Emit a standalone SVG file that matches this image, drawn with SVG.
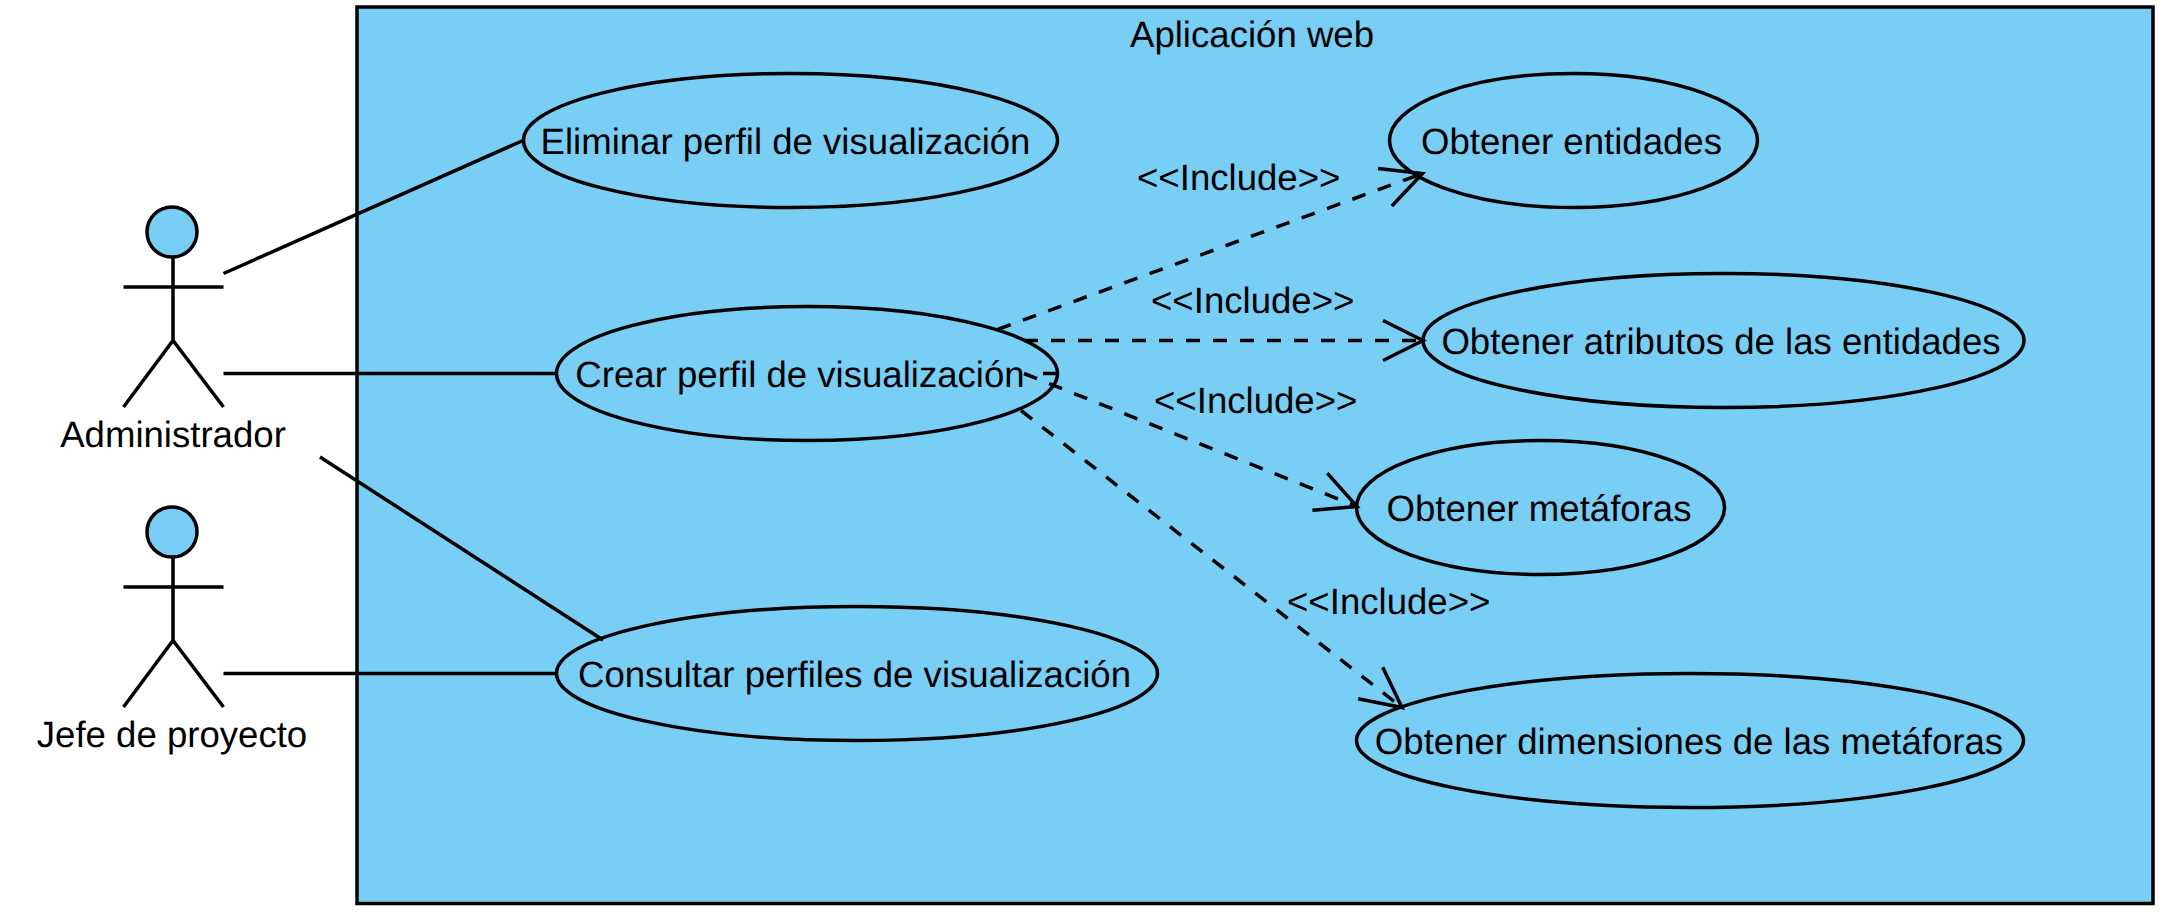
<svg xmlns="http://www.w3.org/2000/svg" width="2170" height="920" viewBox="0 0 2170 920">
<style>
text{font-family:"Liberation Sans",Arial,sans-serif;font-size:36.6px;fill:#000;text-rendering:geometricPrecision}
.s{fill:#79CEF5;stroke:#000;stroke-width:3.5}
.l{fill:none;stroke:#000;stroke-width:3.5}
.d{fill:none;stroke:#000;stroke-width:3.5;stroke-dasharray:14 13;marker-end:url(#open)}
.c{text-anchor:middle}
</style>
<defs>
<marker id="open" markerUnits="userSpaceOnUse" viewBox="-45 -25 50 50" refX="0" refY="0" markerWidth="50" markerHeight="50" orient="auto" overflow="visible">
<path d="M-40,-20 L0,0 L-40,20" fill="none" stroke="#000" stroke-width="3.5"/>
</marker>
<g id="stick">
<circle class="s" cx="172" cy="232" r="25"/>
<path class="l" d="M173,257V340.500M123.500,287H223.500M123.500,407L173,340.500L223.500,407"/>
</g>
</defs>
<g id="system"><rect class="s" x="357" y="7" width="1796" height="896.500"/><text class="c" x="1252" y="47">Aplicación web</text></g>
<g id="actor-admin"><use href="#stick"/><text class="c" x="173" y="447">Administrador</text></g>
<g id="actor-jefe"><use href="#stick" y="300"/><text class="c" x="172" y="747">Jefe de proyecto</text></g>
<g id="uc-eliminar"><ellipse class="s" cx="790.500" cy="140.500" rx="267" ry="67"/><text class="c" x="785.500" y="153.800">Eliminar perfil de visualización</text></g>
<g id="uc-crear"><ellipse class="s" cx="807" cy="373.500" rx="250.500" ry="67"/><text class="c" x="800" y="387">Crear perfil de visualización</text></g>
<g id="uc-consultar"><ellipse class="s" cx="857" cy="673.500" rx="300.500" ry="67"/><text class="c" x="854.500" y="687">Consultar perfiles de visualización</text></g>
<g id="uc-entidades"><ellipse class="s" cx="1573.500" cy="140.500" rx="184" ry="67"/><text class="c" x="1571.500" y="153.800">Obtener entidades</text></g>
<g id="uc-atributos"><ellipse class="s" cx="1723.500" cy="340.500" rx="300.500" ry="67"/><text class="c" x="1721" y="353.800">Obtener atributos de las entidades</text></g>
<g id="uc-metaforas"><ellipse class="s" cx="1540.500" cy="507.500" rx="184" ry="67"/><text class="c" x="1539" y="520.800">Obtener metáforas</text></g>
<g id="uc-dimensiones"><ellipse class="s" cx="1690" cy="740.500" rx="333.500" ry="67"/><text class="c" x="1689" y="753.800">Obtener dimensiones de las metáforas</text></g>
<g id="connectors">
<path class="l" d="M223.500,273.500L523,140.500"/>
<path class="l" d="M223.500,373.500H556"/>
<path class="l" d="M320,457L603,640"/>
<path class="l" d="M223.500,673.500H556"/>
<path class="d" d="M997.500,329.500L1422.500,173.500"/>
<path class="d" d="M1024,340.500H1423"/>
<path class="d" d="M1024,373.500L1357,506.500"/>
<path class="d" d="M1021,410.500L1402,707.500"/>
<path class="l" d="M1043,373.500H1057"/>
<text x="1137" y="190">&lt;&lt;Include&gt;&gt;</text>
<text x="1151" y="313">&lt;&lt;Include&gt;&gt;</text>
<text x="1154" y="413">&lt;&lt;Include&gt;&gt;</text>
<text x="1287" y="614">&lt;&lt;Include&gt;&gt;</text>
</g>
</svg>
